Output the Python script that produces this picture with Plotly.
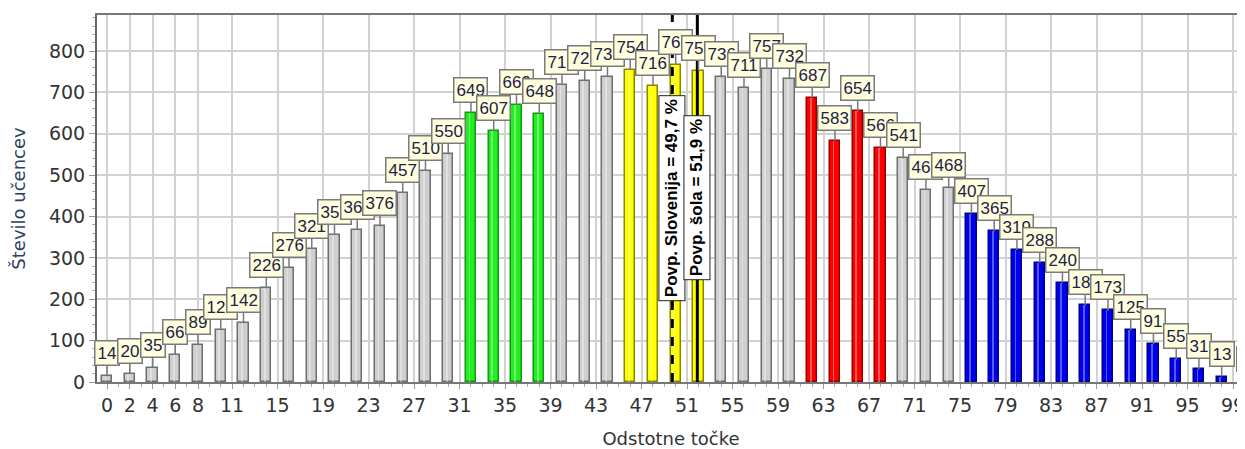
import plotly.graph_objects as go

# ---------------- data ----------------
points = list(range(0, 101, 2))
counts = [14, 20, 35, 66, 89, 126, 142, 226, 276, 321,
          355, 368, 376, 457, 510, 550, 649, 607, 669, 648,
          718, 727, 737, 754, 716, 766, 752, 736, 711, 757,
          732, 687, 583, 654, 566, 541, 464, 468, 407, 365,
          319, 288, 240, 186, 173, 125, 91, 55, 31, 13, 1]
green_bins = [32, 34, 36, 38]
yellow_bins = [46, 48, 50, 52]
red_bins = [62, 64, 66, 68]
blue_bins = list(range(76, 101, 2))
x_ticks = [0, 2, 4, 6, 8, 11, 15, 19, 23, 27, 31, 35, 39, 43, 47, 51, 55,
           59, 63, 67, 71, 75, 79, 83, 87, 91, 95, 99]
mean_slovenija = 49.7
mean_sola = 51.9
label_slovenija = "Povp. Slovenija = 49,7 %"
label_sola = "Povp. šola = 51,9 %"

# ---------------- styling ----------------
def fill_for(p):
    if p in green_bins:
        return "#22EE22", "#119911"
    if p in yellow_bins:
        return "#FFFF00", "#888800"
    if p in red_bins:
        return "#FF0000", "#990000"
    if p in blue_bins:
        return "#0000F0", "#000088"
    return "#CFCFCF", "#6E6E6E"

fills = [fill_for(p)[0] for p in points]
edges = [fill_for(p)[1] for p in points]

fig = go.Figure()
fig.add_trace(go.Bar(
    x=points, y=counts, width=0.9,
    marker=dict(color=fills, line=dict(color=edges, width=1.5)),
    hoverinfo="x+y", showlegend=False,
))
# light highlight stripe inside each bar (cylinder look)
fig.add_trace(go.Bar(
    x=points, y=counts, width=0.14, offset=-0.2,
    marker=dict(color="rgba(255,255,255,0.35)", line=dict(width=0)),
    hoverinfo="skip", showlegend=False,
))

font_main = "DejaVu Sans"

annotations = []
for p, c in zip(points, counts):
    annotations.append(dict(
        x=p, y=c, xref="x", yref="y", text=str(c),
        showarrow=True, arrowhead=0, arrowwidth=1.5, arrowcolor="#7A7A7A",
        ax=0, ay=-23, standoff=0,
        bgcolor="#FFFFE0", bordercolor="#7A7A7A", borderwidth=1.5, borderpad=2,
        font=dict(family="Liberation Sans", size=17, color="#222244"),
    ))

for xv, txt in [(mean_slovenija, label_slovenija), (mean_sola, label_sola)]:
    annotations.append(dict(
        x=xv, y=445, xref="x", yref="y", text="<b>" + txt + "</b>",
        showarrow=False, textangle=-90,
        bgcolor="white", bordercolor="#222222", borderwidth=1, borderpad=3,
        font=dict(family="Liberation Sans", size=17, color="black"),
    ))

shapes = [
    dict(type="line", xref="x", yref="paper", x0=mean_slovenija, x1=mean_slovenija,
         y0=0, y1=1, line=dict(color="black", width=3, dash="dash"), layer="above"),
    dict(type="line", xref="x", yref="paper", x0=mean_sola, x1=mean_sola,
         y0=0, y1=1, line=dict(color="black", width=3), layer="above"),
]

# the page body adds an 8px margin; the figure is sized to fit the window
fig.update_layout(
    width=1237, height=441,
    margin=dict(l=89, r=0, t=7, b=67),
    paper_bgcolor="white", plot_bgcolor="white",
    annotations=annotations, shapes=shapes,
    barmode="overlay", bargap=0,
    font=dict(family=font_main, color="#333333"),
)
fig.update_xaxes(
    range=[-0.88, 100.05], tickmode="array", tickvals=x_ticks,
    ticktext=[str(t) for t in x_ticks],
    tickfont=dict(size=19, color="#333333"), ticklabeloverflow="allow",
    showgrid=True, gridcolor="#D2D2D2", gridwidth=1.5,
    showline=True, linecolor="#777777", linewidth=2, mirror=True,
    ticks="outside", ticklen=5, tickcolor="#999999",
    minor=dict(dtick=1, tick0=0, ticks="outside", ticklen=3, tickcolor="#AAAAAA", showgrid=False),
    title=dict(text="Odstotne točke", font=dict(size=18, color="#333333"), standoff=21),
    zeroline=False, automargin=False,
)
fig.update_yaxes(
    range=[0, 887], tickvals=list(range(0, 801, 100)),
    tickfont=dict(size=19, color="#333333"),
    showgrid=True, gridcolor="#D2D2D2", gridwidth=1.5,
    showline=True, linecolor="#666666", linewidth=2,
    ticks="outside", ticklen=6, tickcolor="#999999",
    minor=dict(dtick=20, ticks="outside", ticklen=3, tickcolor="#AAAAAA", showgrid=False),
    title=dict(text="Število učencev", font=dict(size=18, color="#2F3F5F"), standoff=20),
    zeroline=False, automargin=False,
)

fig.write_html("out.html")
